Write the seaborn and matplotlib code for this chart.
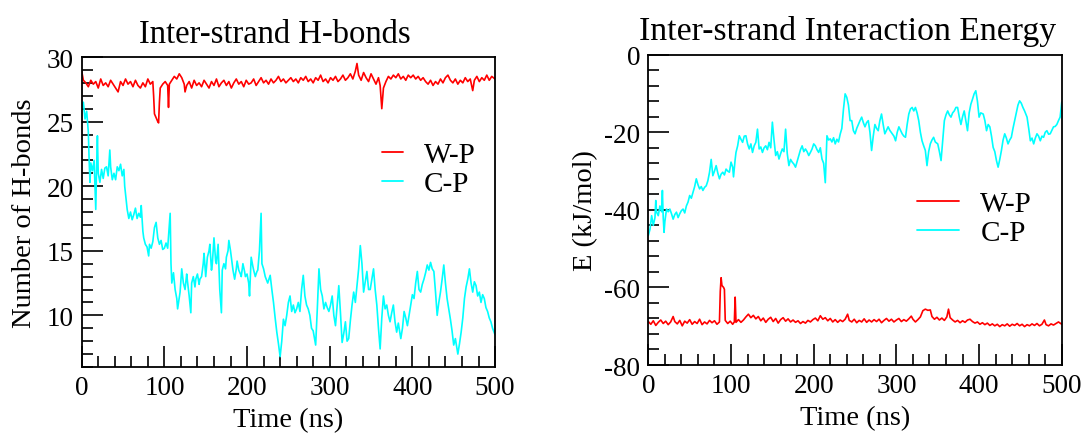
import numpy as np
import pandas as pd
import matplotlib
matplotlib.use("Agg")
import matplotlib.pyplot as plt
from matplotlib.ticker import MultipleLocator
import seaborn as sns

# ---------------- data ----------------
hb_wp_t = [0, 2, 5, 8, 11, 14, 17, 20, 23, 26, 29, 32, 35, 38, 41, 44, 47, 50, 53, 56, 59, 62, 65, 68, 71, 74, 77, 80, 83, 86, 87, 88, 90, 92, 93, 94, 95, 98, 101, 104, 105, 106, 109, 112, 115, 118, 121, 124, 125, 127, 130, 133, 136, 139, 142, 145, 148, 151, 154, 157, 160, 163, 166, 169, 172, 175, 178, 181, 184, 187, 190, 193, 196, 199, 202, 205, 208, 211, 214, 217, 220, 223, 226, 229, 232, 235, 238, 241, 244, 247, 250, 253, 256, 259, 262, 265, 268, 271, 274, 277, 280, 283, 286, 289, 292, 295, 298, 301, 304, 307, 310, 313, 316, 319, 322, 325, 328, 331, 333, 335, 338, 341, 344, 347, 350, 353, 356, 359, 361, 363, 365, 368, 371, 374, 377, 380, 383, 386, 389, 392, 395, 398, 401, 404, 407, 410, 413, 416, 419, 422, 425, 428, 431, 434, 437, 440, 443, 446, 449, 452, 455, 458, 461, 464, 467, 470, 473, 475, 478, 481, 484, 487, 490, 493, 496, 500]
hb_wp = [28.9, 28.2, 28.0, 27.7, 28.2, 27.9, 28.1, 27.6, 28.3, 27.8, 28.0, 27.7, 28.2, 27.9, 27.6, 27.3, 28.1, 27.8, 28.3, 27.9, 28.1, 27.7, 28.2, 27.8, 27.6, 28.0, 27.7, 28.3, 27.9, 28.1, 27.0, 25.6, 25.3, 25.0, 24.9, 26.5, 27.6, 27.9, 28.1, 27.8, 26.1, 27.9, 28.2, 28.5, 28.3, 28.7, 28.4, 27.9, 27.3, 27.8, 28.1, 27.6, 28.2, 27.8, 28.0, 27.7, 28.2, 27.9, 27.6, 28.1, 27.8, 28.3, 27.7, 28.0, 28.2, 27.8, 28.1, 27.6, 28.0, 28.3, 27.9, 28.1, 27.7, 28.2, 27.9, 28.0, 28.3, 27.8, 28.1, 28.4, 28.0, 28.2, 27.9, 28.3, 28.0, 28.2, 28.5, 28.1, 28.3, 28.0, 28.2, 28.4, 28.1, 28.3, 28.0, 28.4, 28.2, 28.5, 28.1, 28.3, 28.0, 28.4, 28.2, 28.6, 28.1, 28.3, 28.0, 28.4, 28.2, 28.5, 28.1, 28.3, 28.6, 28.2, 28.4, 28.7, 28.3, 28.9, 29.5, 28.6, 28.2, 28.8, 28.4, 28.1, 28.7, 28.3, 27.9, 28.4, 27.8, 26.0, 27.6, 28.1, 28.5, 28.3, 28.6, 28.4, 28.7, 28.3, 28.5, 28.2, 28.6, 28.4, 28.6, 28.3, 28.5, 28.2, 28.4, 28.1, 27.9, 28.2, 27.8, 28.1, 27.9, 28.3, 28.0, 28.4, 28.6, 28.2, 28.0, 28.3, 27.9, 28.2, 28.0, 28.4, 28.1, 28.3, 27.4, 28.2, 28.5, 28.1, 28.4, 28.2, 28.6, 28.2, 28.5, 28.3]

hb_cp_t = [0, 2, 4, 6, 8, 9, 10, 11, 13, 15, 17, 18, 19, 20, 22, 24, 26, 28, 30, 32, 34, 35, 37, 39, 41, 43, 45, 47, 49, 51, 52, 54, 55, 57, 59, 61, 63, 65, 67, 69, 71, 72, 74, 75, 77, 79, 81, 82, 84, 86, 88, 90, 92, 94, 96, 98, 100, 102, 104, 107, 108, 109, 111, 113, 115, 116, 119, 121, 123, 125, 127, 128, 130, 132, 133, 135, 137, 138, 140, 142, 143, 145, 147, 148, 150, 152, 154, 155, 157, 158, 160, 162, 163, 165, 167, 169, 170, 172, 174, 175, 177, 178, 180, 182, 183, 185, 187, 188, 190, 192, 193, 195, 197, 198, 200, 202, 203, 205, 207, 208, 210, 212, 213, 215, 217, 218, 220, 222, 225, 228, 230, 232, 234, 236, 238, 240, 242, 244, 246, 248, 250, 252, 254, 256, 258, 260, 262, 264, 266, 268, 270, 272, 274, 276, 278, 280, 283, 285, 287, 289, 291, 293, 295, 297, 299, 301, 303, 305, 307, 309, 311, 313, 315, 317, 319, 321, 323, 325, 327, 329, 331, 333, 335, 337, 339, 341, 343, 345, 347, 349, 351, 353, 355, 357, 359, 361, 363, 365, 367, 369, 371, 373, 375, 377, 379, 381, 383, 386, 388, 390, 392, 394, 396, 398, 400, 402, 404, 406, 408, 410, 412, 414, 416, 418, 420, 422, 424, 426, 428, 430, 432, 434, 436, 438, 440, 442, 444, 446, 448, 450, 452, 455, 457, 459, 461, 463, 465, 467, 469, 471, 473, 475, 477, 479, 481, 483, 485, 487, 489, 491, 493, 495, 497, 500]
hb_cp = [26.0, 26.5, 25.2, 25.8, 24.2, 22.0, 20.3, 21.8, 21.2, 22.0, 18.2, 21.5, 23.9, 21.0, 20.3, 21.3, 20.6, 21.4, 21.5, 20.8, 22.8, 21.5, 20.5, 21.0, 20.5, 21.5, 21.2, 21.7, 20.8, 21.3, 20.0, 18.8, 18.2, 17.5, 18.0, 17.4, 17.8, 18.3, 17.5, 17.9, 17.6, 18.5, 16.5, 16.0, 15.5, 15.3, 14.6, 15.5, 15.2, 15.7, 16.8, 17.2, 16.0, 15.5, 15.8, 15.1, 15.2, 15.6, 15.2, 17.9, 14.0, 12.5, 13.3, 12.0, 11.3, 10.5, 11.8, 13.6, 12.5, 12.0, 13.2, 12.6, 11.5, 10.2, 12.5, 13.0, 12.2, 12.8, 13.2, 12.4, 12.8, 13.0, 14.0, 14.8, 13.0, 14.5, 15.0, 15.5, 13.5, 14.0, 16.0, 14.2, 14.0, 15.5, 12.0, 10.2, 13.5, 14.0, 13.6, 14.5, 15.0, 15.8, 15.0, 14.0, 13.5, 12.8, 13.6, 14.2, 13.5, 13.2, 13.0, 14.0, 13.4, 13.0, 13.2, 12.5, 11.5, 14.5, 13.8, 13.5, 13.0, 13.4, 13.5, 15.0, 17.9, 14.0, 13.6, 13.0, 12.5, 13.1, 12.0, 11.0, 9.8, 8.7, 7.8, 6.8, 8.0, 9.7, 9.2, 10.0, 11.0, 11.5, 10.3, 10.8, 10.2, 10.5, 11.0, 10.3, 12.0, 13.1, 11.5, 10.8, 10.5, 10.0, 9.0, 8.8, 7.7, 10.5, 13.6, 12.0, 11.5, 10.5, 11.0, 10.6, 10.3, 10.8, 11.5, 10.0, 9.2, 10.8, 12.3, 10.2, 7.9, 8.6, 9.5, 8.0, 8.2, 9.6, 10.8, 11.8, 11.0, 12.3, 13.6, 15.4, 14.0, 11.8, 12.6, 13.4, 12.0, 12.0, 12.8, 13.6, 12.0, 10.8, 9.0, 7.4, 9.8, 11.5, 10.5, 10.8, 10.0, 9.5, 10.2, 10.8, 9.5, 8.7, 9.4, 8.2, 9.0, 10.3, 9.8, 9.2, 10.0, 10.8, 11.6, 11.3, 12.5, 13.4, 12.0, 11.8, 12.4, 12.8, 13.3, 13.9, 13.5, 14.1, 13.6, 13.4, 11.8, 10.0, 11.0, 11.8, 12.8, 13.9, 12.5, 11.3, 10.5, 9.7, 8.8, 7.7, 8.2, 7.0, 7.8, 8.7, 9.8, 11.3, 12.2, 12.8, 13.6, 12.5, 11.8, 12.6, 12.3, 11.5, 11.8, 11.0, 11.6, 11.3, 10.6, 10.3, 9.8, 9.5, 9.0, 8.5]

en_wp_t = [0, 3, 6, 9, 12, 15, 18, 21, 24, 27, 30, 32, 35, 38, 41, 44, 47, 50, 53, 56, 59, 62, 65, 68, 71, 74, 77, 80, 83, 86, 87, 88, 89, 91, 92, 93, 96, 99, 102, 104, 105, 106, 109, 112, 115, 118, 121, 124, 127, 130, 133, 136, 139, 142, 145, 148, 151, 154, 157, 160, 163, 166, 169, 172, 175, 178, 181, 184, 187, 190, 193, 196, 199, 202, 205, 208, 211, 214, 217, 220, 223, 226, 229, 232, 235, 238, 241, 243, 246, 249, 252, 255, 258, 261, 264, 267, 270, 273, 276, 279, 282, 285, 288, 291, 294, 297, 300, 303, 306, 309, 312, 315, 318, 320, 323, 326, 329, 332, 335, 338, 341, 343, 346, 349, 352, 355, 358, 361, 363, 365, 368, 371, 374, 377, 380, 383, 386, 389, 392, 395, 398, 401, 404, 407, 410, 413, 416, 419, 422, 425, 428, 431, 434, 437, 440, 443, 446, 449, 452, 455, 458, 461, 464, 467, 470, 473, 476, 479, 481, 484, 487, 490, 493, 496, 500]
en_wp = [-68.8, -69.5, -68.6, -69.8, -69.0, -68.4, -69.3, -68.7, -69.6, -68.9, -67.5, -68.8, -69.4, -68.5, -69.9, -68.7, -69.2, -68.3, -69.5, -68.8, -69.3, -68.2, -69.6, -68.9, -69.4, -68.5, -69.1, -68.6, -69.5, -68.9, -61.0, -57.5, -59.5, -60.0, -60.5, -68.5, -69.3, -68.7, -69.5, -68.9, -62.5, -69.0, -68.3, -69.0, -68.4, -67.6, -66.9, -67.8, -67.2, -68.1, -67.5, -68.6, -67.9, -69.0, -68.2, -67.7, -68.8, -68.0, -69.2, -68.3, -67.8, -68.7, -68.1, -68.9, -68.4, -69.0, -68.6, -69.3, -68.8, -69.2, -68.5, -68.9, -68.3, -67.9, -68.6, -67.3, -68.2, -67.8, -68.6, -68.0, -68.9, -68.3, -69.0, -68.4, -68.8, -68.2, -66.9, -68.5, -68.9, -68.2, -69.1, -68.5, -68.9, -68.1, -69.0, -68.4, -68.9, -68.3, -68.8, -68.2, -69.1, -68.5, -68.0, -68.7, -68.2, -68.9, -68.4, -68.0, -68.8, -68.3, -68.7, -68.1, -67.4, -68.2, -68.9, -68.3, -67.6, -66.0, -65.6, -65.9, -65.8, -67.5, -68.2, -67.7, -68.4, -67.9, -68.5, -67.6, -65.6, -67.8, -68.4, -68.9, -68.5, -69.1, -68.6, -69.0, -68.4, -68.2, -68.8, -69.2, -68.9, -69.5, -69.1, -69.6, -69.2, -69.8, -69.4, -69.9, -69.5, -70.1, -69.6, -69.9, -69.4, -70.0, -69.5, -69.8, -69.3, -69.9, -69.5, -70.1, -69.6, -69.9, -69.4, -69.8, -69.3, -69.9, -69.5, -68.4, -69.6, -69.9, -69.4, -69.7, -69.3, -68.9, -69.5]

en_cp_t = [0, 2, 4, 6, 8, 9, 10, 12, 14, 16, 17, 18, 19, 20, 22, 24, 26, 28, 30, 32, 34, 36, 38, 40, 42, 44, 46, 48, 50, 52, 54, 56, 58, 60, 62, 64, 66, 68, 70, 72, 74, 76, 78, 80, 82, 84, 86, 88, 90, 92, 94, 96, 98, 100, 102, 103, 105, 106, 108, 110, 112, 114, 116, 118, 120, 122, 124, 126, 128, 130, 132, 134, 136, 138, 140, 142, 144, 146, 148, 150, 152, 154, 156, 158, 160, 162, 164, 166, 168, 170, 172, 174, 176, 178, 180, 182, 184, 186, 188, 190, 192, 194, 196, 198, 200, 202, 204, 206, 208, 210, 212, 214, 216, 218, 220, 222, 224, 226, 228, 230, 232, 234, 236, 238, 240, 242, 244, 246, 248, 250, 252, 254, 256, 258, 260, 262, 264, 266, 268, 270, 272, 274, 276, 278, 280, 282, 284, 286, 288, 290, 292, 295, 297, 299, 301, 303, 305, 307, 309, 311, 313, 315, 317, 319, 321, 323, 325, 327, 329, 331, 333, 335, 337, 339, 341, 343, 345, 347, 350, 352, 354, 356, 358, 360, 362, 364, 366, 368, 370, 372, 374, 376, 378, 380, 382, 384, 386, 388, 390, 392, 394, 396, 398, 400, 402, 405, 407, 409, 411, 413, 415, 417, 419, 421, 423, 425, 427, 429, 431, 433, 435, 437, 439, 441, 443, 445, 447, 449, 451, 453, 455, 458, 460, 462, 464, 466, 468, 470, 472, 474, 476, 478, 480, 482, 484, 486, 488, 490, 492, 494, 496, 498, 500]
en_cp = [-46.6, -45.0, -41.5, -44.0, -42.0, -37.6, -40.6, -41.5, -39.0, -40.5, -35.0, -42.0, -45.8, -43.0, -39.8, -40.5, -39.8, -41.0, -42.4, -41.2, -40.6, -42.0, -41.0, -40.2, -39.8, -40.8, -39.0, -38.0, -36.3, -37.0, -35.5, -34.0, -32.0, -33.5, -34.6, -34.0, -35.0, -34.2, -33.8, -32.5, -30.3, -27.0, -31.2, -30.0, -28.6, -30.5, -32.0, -30.8, -30.3, -31.0, -29.5, -30.0, -30.3, -27.7, -29.0, -31.5, -27.0, -25.2, -23.5, -20.9, -21.8, -22.6, -21.0, -20.9, -23.0, -24.3, -23.0, -25.2, -23.5, -22.6, -19.2, -24.3, -23.8, -25.2, -24.0, -23.5, -24.5, -22.6, -24.0, -17.4, -22.0, -26.0, -25.0, -26.9, -25.5, -24.3, -25.0, -19.2, -25.5, -28.6, -27.0, -27.7, -28.2, -29.0, -27.5, -26.0, -24.5, -23.5, -25.0, -24.3, -25.0, -26.0, -25.2, -24.3, -23.0, -23.5, -24.5, -25.2, -24.0, -26.9, -28.0, -33.0, -20.9, -22.0, -21.7, -22.5, -21.4, -23.0, -21.8, -22.5, -20.5, -19.0, -14.0, -10.1, -11.0, -13.0, -17.0, -17.0, -19.6, -20.4, -19.0, -18.0, -17.0, -16.1, -17.5, -18.6, -17.5, -17.0, -20.0, -24.7, -21.0, -18.0, -19.0, -19.6, -17.0, -15.3, -18.0, -20.4, -19.5, -18.6, -19.5, -20.4, -21.0, -22.2, -20.0, -18.6, -19.5, -20.4, -21.0, -21.3, -18.0, -15.3, -14.0, -13.6, -14.5, -13.6, -15.0, -17.0, -20.0, -22.2, -23.5, -24.7, -28.6, -25.0, -23.0, -22.0, -21.3, -22.5, -23.0, -25.0, -27.3, -22.0, -17.0, -15.5, -14.5, -15.5, -16.1, -15.0, -14.5, -13.6, -13.6, -16.0, -18.0, -16.0, -14.5, -17.0, -19.6, -15.0, -12.8, -11.5, -10.1, -9.3, -12.0, -16.1, -15.0, -15.3, -17.0, -19.6, -18.0, -18.6, -21.0, -23.9, -25.0, -27.3, -29.0, -27.0, -24.7, -22.0, -20.4, -21.5, -23.0, -22.0, -21.3, -19.0, -17.0, -15.0, -13.0, -11.9, -12.5, -13.6, -14.5, -16.1, -19.0, -22.2, -21.5, -23.0, -21.5, -20.4, -21.0, -22.2, -21.0, -21.3, -20.0, -19.6, -20.5, -20.4, -19.5, -18.6, -18.5, -18.0, -17.0, -16.1, -12.2]

series_names = ["W-P", "C-P"]
series_colors = {"W-P": "#ff0000", "C-P": "#00ffff"}

# ---------------- build long tables ----------------
hb_df = pd.concat([
    pd.DataFrame({"Time": hb_wp_t, "Value": hb_wp, "Series": "W-P"}),
    pd.DataFrame({"Time": hb_cp_t, "Value": hb_cp, "Series": "C-P"}),
])
en_df = pd.concat([
    pd.DataFrame({"Time": en_wp_t, "Value": en_wp, "Series": "W-P"}),
    pd.DataFrame({"Time": en_cp_t, "Value": en_cp, "Series": "C-P"}),
])

sns.set_style("ticks")
plt.rcParams["font.family"] = ["Liberation Serif", "DejaVu Serif"]
plt.rcParams["axes.unicode_minus"] = False
plt.rcParams["text.color"] = "black"
plt.rcParams["axes.labelcolor"] = "black"
plt.rcParams["xtick.color"] = "black"
plt.rcParams["ytick.color"] = "black"

fig = plt.figure(figsize=(10.88, 4.35), dpi=100)
ax1 = fig.add_axes([0.0751, 0.154, 0.3799, 0.7126])
ax2 = fig.add_axes([0.5959, 0.1586, 0.3800, 0.7134])

TICK_FS = 19.5
XLAB_FS = 20.5
YLAB_FS = 20.5
LEG_FS = 21

for ax, df in ((ax1, hb_df), (ax2, en_df)):
    sns.lineplot(data=df, x="Time", y="Value", hue="Series", hue_order=series_names,
                 palette=series_colors, linewidth=1.2, estimator=None, sort=False, ax=ax)
    ax.set_xlim(0, 500)
    ax.xaxis.set_major_locator(MultipleLocator(100))
    ax.xaxis.set_minor_locator(MultipleLocator(20))
    for s in ax.spines.values():
        s.set_linewidth(1.3)
        s.set_color("black")
        s.set_visible(True)
    ax.tick_params(which="both", direction="in", top=False, right=False, width=1.2,
                   labelsize=TICK_FS, colors="black")
    ax.tick_params(which="major", length=15, pad=6)
    ax.tick_params(which="minor", length=8)
    ax.set_xlabel("Time (ns)", fontsize=XLAB_FS, labelpad=5, color="black")

ax1.set_ylim(6, 30)
ax1.yaxis.set_major_locator(MultipleLocator(5))
ax1.yaxis.set_minor_locator(MultipleLocator(1))
ax1.set_ylabel("Number of H-bonds", fontsize=YLAB_FS, labelpad=7, color="black")
ax1.set_title("Inter-strand H-bonds", fontsize=23.5, pad=11, x=0.466, color="black")

ax2.set_ylim(-80, 0)
ax2.yaxis.set_major_locator(MultipleLocator(20))
ax2.yaxis.set_minor_locator(MultipleLocator(4))
ax2.set_ylabel("E (kJ/mol)", fontsize=YLAB_FS, labelpad=4, color="black")
ax2.set_title("Inter-strand Interaction Energy", fontsize=24.3, pad=11, x=0.483, color="black")

ax1.legend(loc="upper left", bbox_to_anchor=(0.727, 0.727), frameon=False, fontsize=LEG_FS,
           handlelength=0.72, handletextpad=0.72, labelspacing=0.08, borderpad=0,
           borderaxespad=0, title=None, labelcolor="black")
ax2.legend(loc="upper left", bbox_to_anchor=(0.65, 0.562), frameon=False, fontsize=LEG_FS,
           handlelength=1.45, handletextpad=0.72, labelspacing=0.08, borderpad=0,
           borderaxespad=0, title=None, labelcolor="black")
for ax in (ax1, ax2):
    for ln in ax.get_legend().get_lines():
        ln.set_linewidth(1.3)

fig.savefig("out.png", dpi=100)
